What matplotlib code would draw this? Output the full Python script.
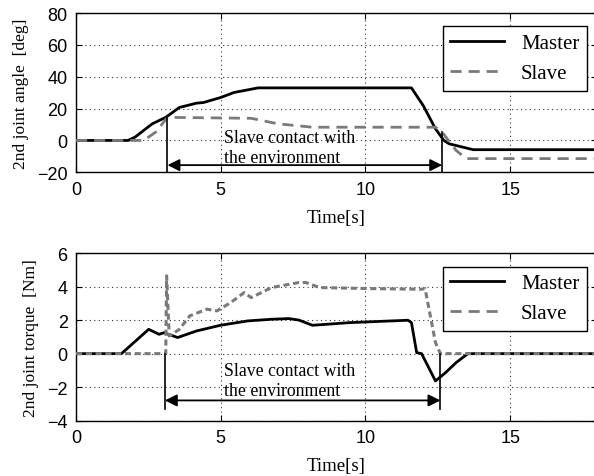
import matplotlib
matplotlib.use("Agg")
import matplotlib.pyplot as plt
from matplotlib import font_manager
from matplotlib.lines import Line2D

# --- datos ---
t_ang_master = [0, 1.80, 2.04, 2.63, 3.10, 3.57, 4.16, 4.40, 4.99, 5.46, 6.29, 11.59, 12.00, 12.42, 12.71, 12.89, 13.72, 18.5]
ang_master = [0, 0, 2.1, 10.4, 14.5, 20.7, 23.4, 23.8, 26.9, 30.1, 33.0, 33.0, 21.8, 7.3, 0, -2.1, -5.8, -5.8]
t_ang_slave = [0, 2.34, 2.75, 3.16, 6.05, 6.99, 8.17, 12.42, 12.65, 13.13, 13.48, 18.5]
ang_slave = [0, 0, 5.2, 14.5, 13.9, 10.4, 8.3, 8.3, 5.2, -6.2, -11.4, -11.4]

t_tq_master = [0, 1.57, 2.51, 2.87, 3.04, 3.51, 4.16, 4.99, 5.93, 6.76, 7.35, 7.70, 8.17, 9.47, 11.47, 11.59, 11.77, 11.94, 12.42, 12.77, 13.13, 13.54, 18.5]
tq_master = [0, 0, 1.45, 1.15, 1.25, 0.96, 1.35, 1.69, 1.95, 2.05, 2.09, 2.0, 1.69, 1.85, 1.99, 1.85, 0.06, 0, -1.63, -1.13, -0.54, 0, 0]
t_tq_slave = [0, 3.10, 3.13, 3.22, 3.57, 3.93, 4.52, 4.87, 5.34, 5.81, 6.05, 6.76, 7.70, 7.94, 8.41, 10.06, 11.94, 12.06, 12.42, 12.59, 18.5]
tq_slave = [0, 0, 4.64, 1.05, 1.45, 2.25, 2.65, 2.55, 3.04, 3.64, 3.34, 3.94, 4.24, 4.24, 3.94, 3.88, 3.84, 3.88, 0.66, 0, 0]

# contacto con el entorno: (inicio, fin, y_inicio, y_fin, y_flecha, y_texto1, y_texto2, y_abajo)
contacto_ang = (3.16, 12.65, 14.5, 5.2, -15.5, 2.1, -10.4, -20)
contacto_tq = (3.07, 12.59, 0, 0, -2.79, -1.03, -2.19, -3.28)

serif = "Liberation Serif"
nombres = {f.name for f in font_manager.fontManager.ttflist}
sans = "Liberation Sans Narrow" if "Liberation Sans Narrow" in nombres else "Liberation Sans"

plt.rcParams["font.family"] = serif
plt.rcParams["axes.linewidth"] = 1.0

fig = plt.figure(figsize=(5.94, 4.77), dpi=100)
ax1 = fig.add_axes([0.128, 0.6367, 0.877, 0.3339])
ax2 = fig.add_axes([0.128, 0.1159, 0.877, 0.3516])

gris = "#7a7a7a"


def estilo(ax, ylim, yticks, ylabel):
    ax.set_xlim(0, 18)
    ax.set_ylim(*ylim)
    ax.set_xticks([0, 5, 10, 15])
    ax.set_yticks(yticks)
    ax.grid(True, linestyle=(0, (1, 3)), color="#333333", linewidth=0.8)
    ax.tick_params(direction="in", top=True, right=True, length=4, labelsize=13, pad=6)
    for lab in ax.get_xticklabels() + ax.get_yticklabels():
        lab.set_family(sans)
    ax.set_xlabel("Time[s]", fontsize=13.5, labelpad=8)
    ax.set_ylabel(ylabel, fontsize=12.5, labelpad=6)


def contacto(ax, c):
    x0, x1, y0, y1, ya, yt1, yt2, yb = c
    ax.plot([x0, x0], [y0, yb], color="black", lw=1.2, zorder=4)
    ax.plot([x1, x1], [y1, yb], color="black", lw=1.2, zorder=4)
    ax.annotate("", xy=(x0, ya), xytext=(x1, ya),
                arrowprops=dict(arrowstyle="<|-|>", color="black", lw=1.3,
                                mutation_scale=18, shrinkA=0, shrinkB=0))
    ax.text(5.1, yt1, "Slave contact with", fontsize=12.8, va="center", ha="left")
    ax.text(5.1, yt2, "the environment", fontsize=12.8, va="center", ha="left")


def leyenda(ax):
    h = [Line2D([], [], color="black", lw=2),
         Line2D([], [], color=gris, lw=2, dashes=(4, 2.5))]
    ax.legend(h, ["Master", "Slave"], loc="upper right", fontsize=15,
              fancybox=False, edgecolor="black", framealpha=1,
              handlelength=2.6, borderpad=0.35, borderaxespad=0.45,
              bbox_to_anchor=(0.998, 0.975))


# angulo
ax1.plot(t_ang_master, ang_master, color="black", lw=2, zorder=3)
ax1.plot(t_ang_slave, ang_slave, color=gris, lw=2, dashes=(4, 2.5), zorder=3)
estilo(ax1, (-20, 80), [-20, 0, 20, 40, 60, 80], "2nd joint angle  [deg]")
contacto(ax1, contacto_ang)
leyenda(ax1)

# torque
ax2.plot(t_tq_master, tq_master, color="black", lw=2, zorder=3)
ax2.plot(t_tq_slave, tq_slave, color=gris, lw=2.2, dashes=(2, 1.2), zorder=3)
estilo(ax2, (-4, 6), [-4, -2, 0, 2, 4, 6], "2nd joint torque  [Nm]")
contacto(ax2, contacto_tq)
leyenda(ax2)

fig.savefig("out.png", dpi=100)
